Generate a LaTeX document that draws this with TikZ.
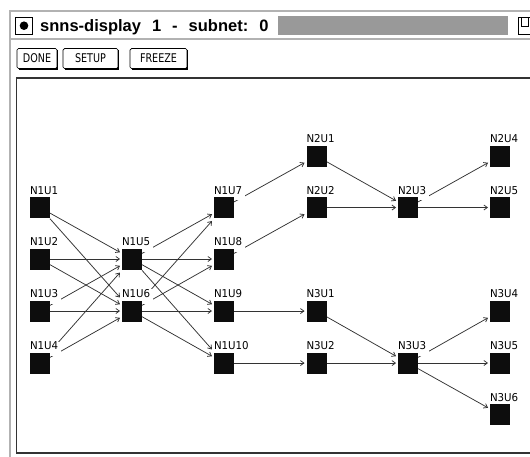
\documentclass[tikz,border=0pt]{standalone}
\usepackage{fontspec}
\setmainfont{DejaVu Sans}
\newfontfamily\titlefont{Liberation Sans}
\newfontfamily\lblfont[FakeStretch=0.95]{DejaVu Sans}
\newfontfamily\btnfont[FakeStretch=0.8]{DejaVu Sans}
\usetikzlibrary{arrows.meta,calc}
\newcommand{\netedge}[2]{\draw[netline] (intersection of #1c--#2c and #1ra--#1rb) -- (intersection of #1c--#2c and #2la--#2lb);}
\begin{document}
\begin{tikzpicture}[x=1pt,y=-1pt,
  sq/.style={minimum width=20pt,minimum height=21pt,inner sep=0pt,outer sep=0pt,draw=none},
  lbl/.style={font=\lblfont\fontsize{10.8}{11}\selectfont,inner sep=0pt,outer sep=0pt,anchor=base west,text=black,fill=white,text depth=6pt},
  netline/.style={draw=black!80,line width=0.75pt,-{Straight Barb[length=3.5pt,width=5pt]}},
  btn/.style={draw=black,line width=0.7pt,rounded corners=1.5pt},
  btntext/.style={font=\btnfont\fontsize{12}{14}\selectfont,inner sep=0pt},
  ttl/.style={font=\titlefont\bfseries\fontsize{16.5}{20}\selectfont,inner sep=0pt,anchor=base west}
]
\useasboundingbox (0,0) rectangle (530,456);
\clip (0,0) rectangle (530,456);
\fill[white] (0,0) rectangle (530,456);
% window frame
\draw[gray!60,line width=2.2pt] (10,470) -- (10,11) -- (545,11);
\draw[gray!60,line width=2.2pt] (10,39) -- (545,39);
% title bar
\draw[black,line width=1pt] (15.5,17.5) rectangle (32.5,34);
\fill[black] (24,25.7) circle (4.3);
\node[ttl] (title) at (40,31) {snns-display\hspace{11pt}1\hspace{11pt}-\hspace{11pt}subnet:\hspace{11pt}0};
\fill[black!40] (278,16) rectangle (508,35);
\draw[black,line width=1pt] (518.5,17.5) rectangle (545,34.5);
\draw[black,line width=1pt] (521.5,17.5) -- (521.5,26) -- (528,26) -- (528,17.5);
% buttons
\draw[btn] (17,48.5) rectangle (57,68.5);
\draw[line width=1.6pt] (18.5,69) -- (57.5,69) -- (57.5,50);
\node[btntext] (bdone) at (37,58.5) {DONE};
\draw[btn] (63,48.5) rectangle (118,68.5);
\draw[line width=1.6pt] (64.5,69) -- (118.5,69) -- (118.5,50);
\node[btntext] (bsetup) at (90.5,58.5) {SETUP};
\draw[btn] (130,48.5) rectangle (187,68.5);
\draw[line width=1.6pt] (131.5,69) -- (187.5,69) -- (187.5,50);
\node[btntext] (bfreeze) at (158.5,58.5) {FREEZE};
% canvas
\draw[black!80,line width=1.8pt] (16.5,78) rectangle (560,453);
% units (geometry)
\foreach \n/\x/\y in {N1U1/40/207.5,N1U2/40/259,N1U3/40/311,N1U4/40/363,
  N1U5/132/259,N1U6/132/311,
  N1U7/224/207.5,N1U8/224/259,N1U9/224/311,N1U10/224/363,
  N2U1/316.5/156,N2U2/316.5/207.5,N2U3/408/207.5,N2U4/500/156,N2U5/500/207.5,
  N3U1/316.5/311,N3U2/316.5/363,N3U3/408/363,N3U4/500/311,N3U5/500/363,N3U6/500/414.5}{
  \node[sq] (\n) at (\x,\y) {};
  \coordinate (\n c) at (\x,\y);
  \coordinate (\n ra) at (\n.north east);
  \coordinate (\n rb) at (\n.south east);
  \coordinate (\n la) at ([xshift=-2pt]\n.north west);
  \coordinate (\n lb) at ([xshift=-2pt]\n.south west);
}
% connections
\netedge{N1U1}{N1U5}\netedge{N1U1}{N1U6}
\netedge{N1U2}{N1U5}\netedge{N1U2}{N1U6}
\netedge{N1U3}{N1U5}\netedge{N1U3}{N1U6}
\netedge{N1U4}{N1U5}\netedge{N1U4}{N1U6}
\netedge{N1U5}{N1U7}\netedge{N1U5}{N1U8}\netedge{N1U5}{N1U9}\netedge{N1U5}{N1U10}
\netedge{N1U6}{N1U7}\netedge{N1U6}{N1U8}\netedge{N1U6}{N1U9}\netedge{N1U6}{N1U10}
\netedge{N1U7}{N2U1}
\netedge{N1U8}{N2U2}
\netedge{N1U9}{N3U1}
\netedge{N1U10}{N3U2}
\netedge{N2U1}{N2U3}\netedge{N2U2}{N2U3}
\netedge{N2U3}{N2U4}\netedge{N2U3}{N2U5}
\netedge{N3U1}{N3U3}\netedge{N3U2}{N3U3}
\netedge{N3U3}{N3U4}\netedge{N3U3}{N3U5}\netedge{N3U3}{N3U6}
% labels and squares
\foreach \n in {N1U1,N1U2,N1U3,N1U4,N1U5,N1U6,N1U7,N1U8,N1U9,N1U10,
  N2U1,N2U2,N2U3,N2U4,N2U5,N3U1,N3U2,N3U3,N3U4,N3U5,N3U6}{
  \node[lbl] (\n l) at ([yshift=3pt]\n.north west) {\n\kern3pt};
  \fill[black!95] (\n.south west) rectangle (\n.north east);
}
\end{tikzpicture}
\end{document}
